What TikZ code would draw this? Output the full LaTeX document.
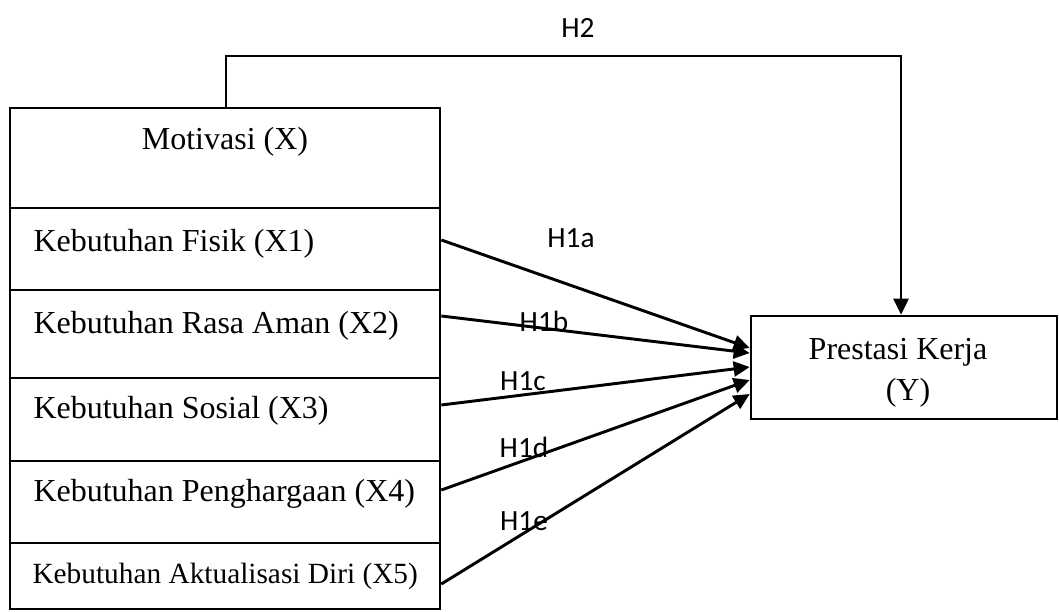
\documentclass[tikz,border=0pt]{standalone}
\usepackage{fontspec}
\setmainfont{Liberation Serif}
\newfontfamily\labelfont{Carlito}
\usetikzlibrary{arrows.meta}

\begin{document}
\begin{tikzpicture}[x=0.375pt, y=-0.375pt,
  cell/.style={draw, line width=1pt, rectangle, inner sep=0pt, minimum width=161.25pt},
  txt/.style={inner sep=0pt, anchor=base west, font=\fontsize{12}{14}\selectfont},
  hyp/.style={inner sep=0pt, font=\labelfont\fontsize{11}{13}\selectfont},
  arr/.style={line width=1.1pt, -{Triangle[length=6pt, width=5.6pt]}}]

\useasboundingbox (0,0) rectangle (1059,611);

% left stack: Motivasi and its five indicators
\node[cell, minimum height=37.5pt]   (m)  at (225,158)   {};
\node[cell, minimum height=30.75pt]  (x1) at (225,249)   {};
\node[cell, minimum height=33pt]     (x2) at (225,334)   {};
\node[cell, minimum height=31.125pt] (x3) at (225,419.5) {};
\node[cell, minimum height=30.75pt]  (x4) at (225,502)   {};
\node[cell, minimum height=24.75pt]  (x5) at (225,576)   {};

\node[txt, anchor=base] (tm) at (225,149) {Motivasi (X)};
\node[txt] (t1) at (33,251)   {Kebutuhan Fisik (X1)};
\node[txt] (t2) at (33,333)   {Kebutuhan Rasa Aman (X2)};
\node[txt] (t3) at (33,418)   {Kebutuhan Sosial (X3)};
\node[txt] (t4) at (33,501.5) {Kebutuhan Penghargaan (X4)};
\node[txt, font=\fontsize{11}{13}\selectfont] (t5) at (32,583) {Kebutuhan Aktualisasi Diri (X5)};

% dependent variable
\node[cell, minimum width=114.75pt, minimum height=38.625pt] (p) at (904,367.5) {};
\node[txt, anchor=base] (tp1) at (898,359) {Prestasi Kerja};
\node[txt, anchor=base] (tp2) at (908,400) {(Y)};

% partial effects
\draw[arr] (x1.east |- 0,240) -- (p.west |- 0,348);
\draw[arr] (x2.east |- 0,316) -- (p.west |- 0,353);
\draw[arr] (x3.east |- 0,405) -- (p.west |- 0,367);
\draw[arr] (x4.east |- 0,490) -- (p.west |- 0,380);
\draw[arr] (x5.east |- 0,584) -- (p.west |- 0,394);

% overall effect
\coordinate (top) at (0,56);
\draw[arr] (m.north -| 226,0) |- (top -| 901,0) -- (p.north -| 901,0);

% hypothesis labels
\node[hyp] (h2)  at (578,28)  {H2};
\node[hyp] (h1a) at (571,238) {H1a};
\node[hyp] (h1b) at (544,321) {H1b};
\node[hyp] (h1c) at (523,381) {H1c};
\node[hyp] (h1d) at (524,447) {H1d};
\node[hyp] (h1e) at (524,521) {H1e};
\end{tikzpicture}
\end{document}
